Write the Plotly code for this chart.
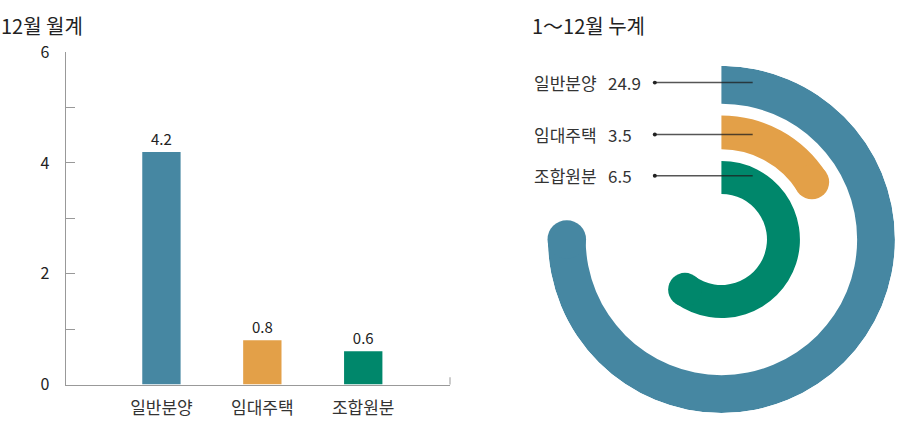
import plotly.graph_objects as go

FONT = "Noto Sans CJK KR"
TXT = "#222222"

# data
categories = ["일반분양", "임대주택", "조합원분"]
month_values = [4.2, 0.8, 0.6]       # 12월 월계
ytd_values = [24.9, 3.5, 6.5]        # 1~12월 누계
ytd_arc_pct = [75, 16, 60]           # part of the full circle each ring covers
colors = ["#4687a2", "#e3a048", "#00876b"]
y_tick_vals = [0, 2, 4, 6]

# the photographed page area (the figure fills the window)
VX0, VY0, VW, VH = 4, 8, 892, 408

# ring geometry in px, radial axis runs 0..R
CX, CY, R = 719, 239, 179
rings = [(140, 179), (93, 128), (47, 81)]
label_shift = [-0.5, 3.5, -1]  # leader line offset below the ring middle
R_PX = min(R, VX0 + VW - CX, VY0 + VH - CY)  # circle radius that fits in the page


def fx(x):
    return (x - VX0) / VW


def fy(y):
    return 1 - (y - VY0) / VH


fig = go.Figure()

# left: bar chart
fig.add_trace(
    go.Bar(
        x=categories,
        y=month_values,
        marker=dict(color=colors, line_width=0),
        width=0.38,
        text=[f"{v:.1f}" for v in month_values],
        textposition="outside",
        textfont=dict(family=FONT, size=15, color=TXT),
        cliponaxis=False,
        showlegend=False,
        hoverinfo="skip",
    )
)

# right: radial bars with a rounded end
for val, pct, col, (r0, r1) in zip(ytd_values, ytd_arc_pct, colors, rings):
    span = pct * 3.6
    fig.add_trace(
        go.Barpolar(
            r=[r1 - r0],
            base=[r0],
            theta=[span / 2],
            width=[span],
            marker=dict(color=col, line_width=0),
            showlegend=False,
            hoverinfo="skip",
            subplot="polar",
        )
    )
    fig.add_trace(
        go.Scatterpolar(
            r=[(r0 + r1) / 2],
            theta=[span],
            mode="markers",
            marker=dict(size=(r1 - r0) * R_PX / R, color=col, line_width=0),
            showlegend=False,
            hoverinfo="skip",
            subplot="polar",
        )
    )

shapes = []
annotations = [
    dict(text="12월 월계", x=fx(3), y=1, xanchor="left", yanchor="top", yshift=4),
    dict(text="1～12월 누계", x=fx(529), y=1, xanchor="left", yanchor="top", yshift=4),
]
for a in annotations:
    a.update(xref="paper", yref="paper", showarrow=False,
             font=dict(family=FONT, size=20, color=TXT))

for name, val, (r0, r1), sh in zip(categories, ytd_values, rings, label_shift):
    ly = CY - (r0 + r1) / 2 + sh
    shapes.append(dict(type="line", xref="paper", yref="paper",
                       x0=fx(653), x1=fx(CX + 31), y0=fy(ly), y1=fy(ly),
                       line=dict(color="rgba(30,30,30,0.75)", width=1.5)))
    shapes.append(dict(type="circle", xref="paper", yref="paper",
                       x0=fx(651), x1=fx(655), y0=fy(ly - 2), y1=fy(ly + 2),
                       fillcolor="#222", line_width=0))
    annotations.append(dict(text=name, x=fx(531), y=fy(ly), xanchor="left",
                            yanchor="middle", xref="paper", yref="paper", showarrow=False,
                            font=dict(family=FONT, size=17, color="#333")))
    annotations.append(dict(text=f"{val}", x=fx(605), y=fy(ly), xanchor="left",
                            yanchor="middle", xref="paper", yref="paper", showarrow=False,
                            font=dict(family=FONT, size=17, color="#333")))

# small closing tick at the right end of the x axis
shapes.append(dict(type="line", xref="x domain", yref="y domain", x0=1, x1=1, y0=0,
                   y1=0.022, line=dict(color="#999", width=1)))

fig.update_layout(
    autosize=True,
    margin=dict(l=0, r=0, t=0, b=0),
    paper_bgcolor="white",
    plot_bgcolor="white",
    font=dict(family=FONT, color=TXT),
    xaxis=dict(
        domain=[fx(69), fx(450)],
        range=[-0.95, 2.86],
        showline=True,
        linecolor="#999",
        linewidth=1,
        ticks="",
        showgrid=False,
        zeroline=False,
        tickfont=dict(family=FONT, size=17, color="#333"),
        ticklabelstandoff=8,
        fixedrange=True,
    ),
    yaxis=dict(
        domain=[fy(387), fy(48)],
        range=[0, 6],
        showline=True,
        linecolor="#999",
        linewidth=1,
        tickvals=y_tick_vals,
        ticks="inside",
        ticklen=9,
        tickcolor="#999",
        minor=dict(dtick=1, ticks="inside", ticklen=9, tickcolor="#999"),
        showgrid=False,
        zeroline=False,
        tickfont=dict(family=FONT, size=16, color=TXT),
        ticklabelstandoff=12,
        fixedrange=True,
    ),
    polar=dict(
        domain=dict(x=[fx(CX - R_PX), fx(CX + R_PX)],
                    y=[fy(CY + R_PX), fy(CY - R_PX)]),
        bgcolor="white",
        hole=0,
        angularaxis=dict(visible=False, rotation=90, direction="clockwise",
                         thetaunit="degrees"),
        radialaxis=dict(visible=False, range=[0, R]),
        barmode="overlay",
    ),
    shapes=shapes,
    annotations=annotations,
)

# fill the browser window with the figure
post = (
    "document.body.style.margin='0';document.body.style.overflow='hidden';"
    "var gd=document.getElementById('{plot_id}');"
    "gd.style.width='100vw';gd.style.height='100vh';Plotly.Plots.resize(gd);"
)
fig.write_html("out.html", default_width="100vw", default_height="100vh",
               post_script=post, config={"displayModeBar": False})
